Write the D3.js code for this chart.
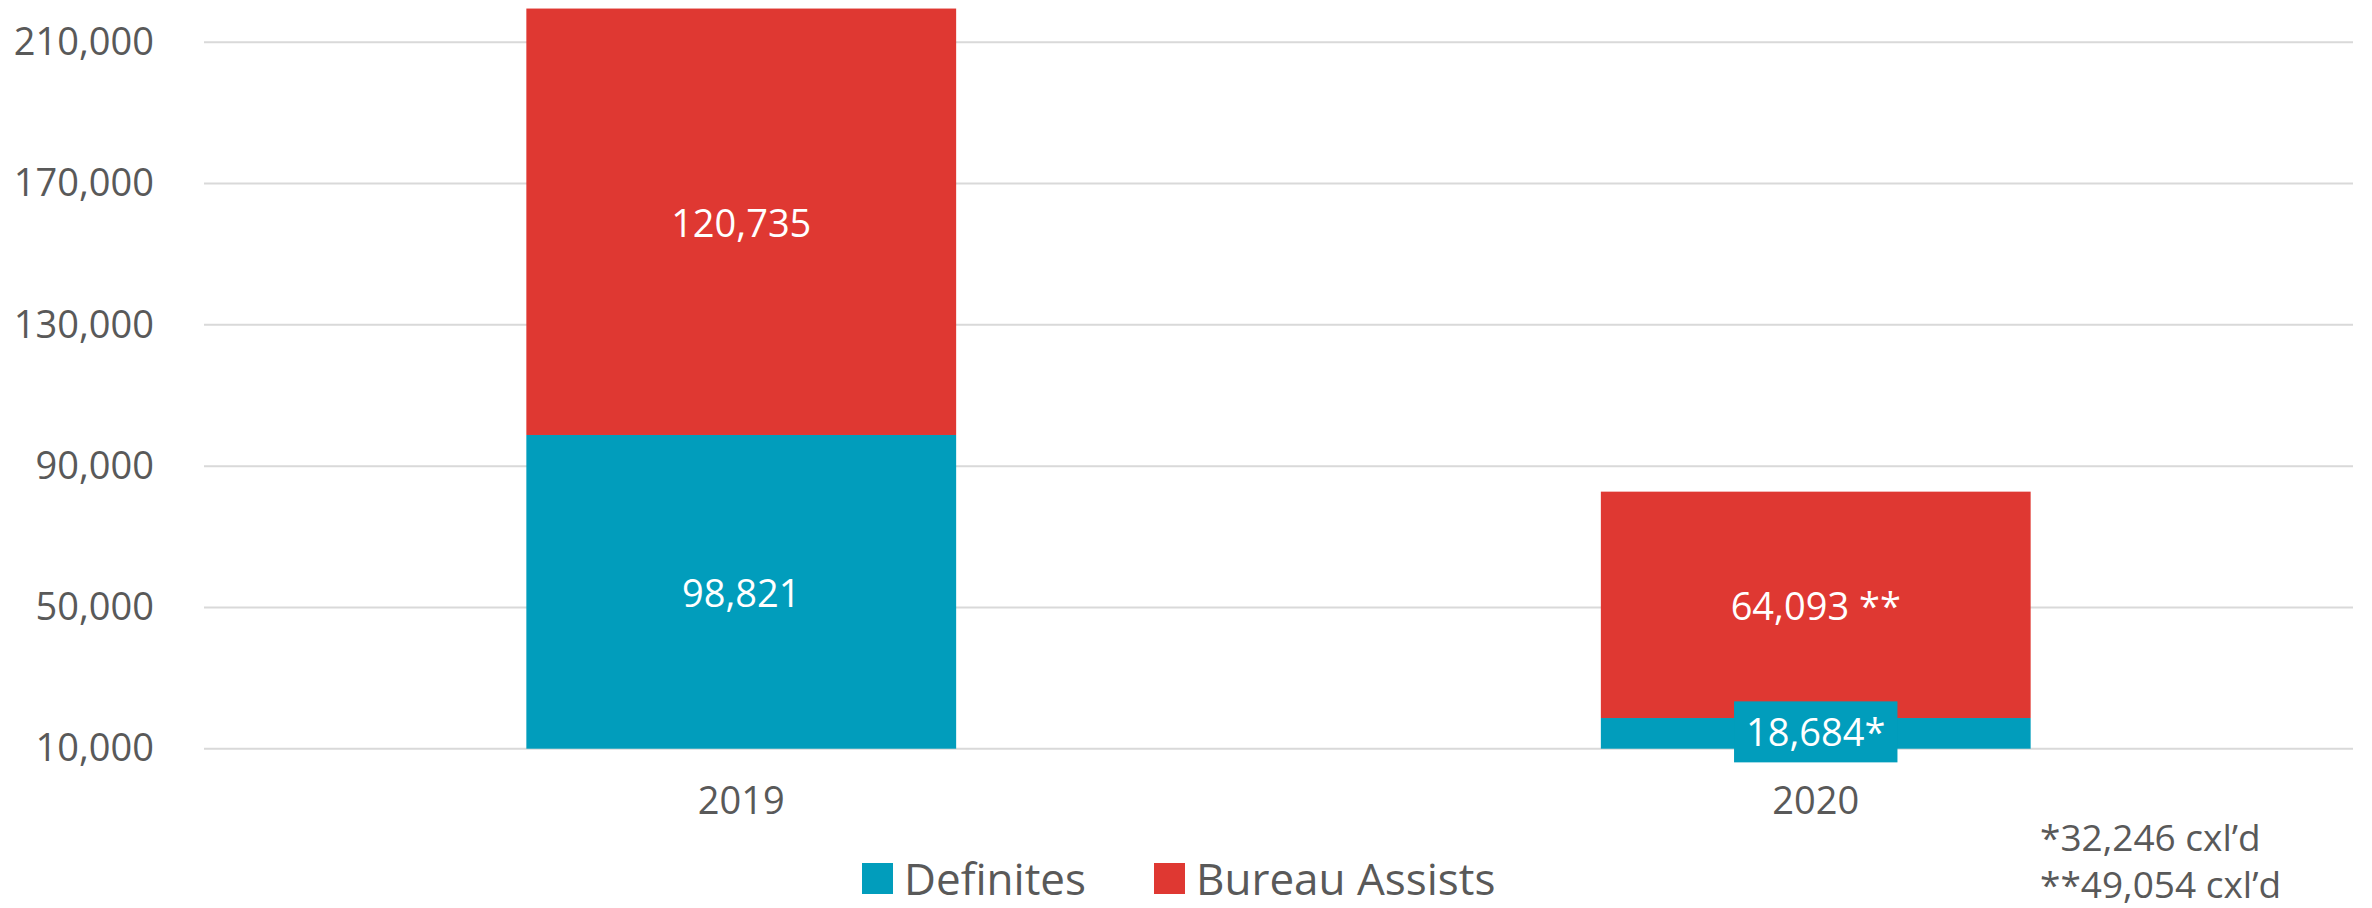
<!DOCTYPE html>
<html>
<head>
<meta charset="utf-8">
<script src="https://cdn.jsdelivr.net/npm/d3@7"></script>
<style>
  body { margin: 0; background: #fff; }
  text { font-family: "Open Sans", sans-serif; }
</style>
</head>
<body>
<script>
var years = ["2019", "2020"];
var seriesNames = ["Definites", "Bureau Assists"];
var definites = [98821, 18684];
var bureauAssists = [120735, 64093];
var definitesMarks = ["", "*"];
var assistsMarks = ["", " **"];
var yTicks = [10000, 50000, 90000, 130000, 170000, 210000];
var footnotes = ["*32,246 cxl\u2019d", "**49,054 cxl\u2019d"];
var colors = ["#019dbc", "#df3832"];

var width = 2372;
var height = 908;
var plotLeft = 204, plotRight = 2353;
var plotTop = 42.3, plotBottom = 748.7;

var svg = d3.select('body')
            .append('svg')
            .attr('width', width)
            .attr('height', height)

var x = d3.scaleBand()
          .domain(years)
          .range([plotLeft, plotRight])
          .paddingInner(0.6)
          .paddingOuter(0.3)

var y = d3.scaleLinear()
          .domain([10000, 210000])
          .range([plotBottom, plotTop])

// gridlines
svg.selectAll('line.grid')
   .data(yTicks)
   .enter()
   .append('line')
   .attr('class', 'grid')
   .attr('x1', plotLeft)
   .attr('x2', plotRight)
   .attr('y1', function(d) {return y(d);})
   .attr('y2', function(d) {return y(d);})
   .attr('stroke', '#d9d9d9')
   .attr('stroke-width', 2)

// y axis labels
var yAxis = d3.axisLeft(y)
              .tickValues(yTicks)
              .tickFormat(d3.format(','))
              .tickSize(0)
              .tickPadding(50)
var ga = svg.append('g')
            .attr('transform', 'translate(' + plotLeft + ',0)')
            .call(yAxis)
ga.select('.domain').remove()
ga.selectAll('text')
  .attr('font-size', 38)
  .attr('fill', '#595959')
  .style('font-family', '"Open Sans", sans-serif')

// x axis labels
var xAxis = d3.axisBottom(x).tickSize(0).tickPadding(38)
var gx = svg.append('g')
            .attr('transform', 'translate(0,' + plotBottom + ')')
            .call(xAxis)
gx.select('.domain').remove()
gx.selectAll('text')
  .attr('font-size', 38)
  .attr('fill', '#595959')
  .style('font-family', '"Open Sans", sans-serif')

var table = years.map(function(yr, i) {
    return {year: yr, "Definites": definites[i], "Bureau Assists": bureauAssists[i]};
});
var stacked = d3.stack().keys(seriesNames)(table);
var marks = [definitesMarks, assistsMarks];

// bars first
stacked.forEach(function(layer, s) {
    svg.append('g')
       .selectAll('rect')
       .data(layer)
       .enter()
       .append('rect')
       .attr('x', function(d) {return x(d.data.year);})
       .attr('width', x.bandwidth())
       .attr('y', function(d) {return y(d[1]);})
       .attr('height', function(d) {return y(Math.max(d[0], 10000)) - y(d[1]);})
       .attr('fill', colors[s])
});

// then data labels on top
stacked.forEach(function(layer, s) {
    layer.forEach(function(d, i) {
        var segH = y(Math.max(d[0], 10000)) - y(d[1]);
        var cy = (y(Math.max(d[0], 10000)) + y(d[1])) / 2;
        if (segH < 55) cy = cy - 2;
        var cx = x(d.data.year) + x.bandwidth() / 2;
        var lg = svg.append('g');
        var t = lg.append('text')
                  .attr('x', cx)
                  .attr('y', cy)
                  .attr('text-anchor', 'middle')
                  .attr('dominant-baseline', 'central')
                  .attr('font-size', 38)
                  .attr('fill', '#fff')
                  .text(d3.format(',')(d.data[seriesNames[s]]) + marks[s][i])
        // label too big for its segment gets a box of the series colour
        if (segH < 55) {
            var w = t.node().getComputedTextLength();
            lg.insert('rect', 'text')
              .attr('x', cx - w / 2 - 12)
              .attr('y', cy - 30)
              .attr('width', w + 24)
              .attr('height', 61)
              .attr('fill', colors[s])
        }
    });
});

// legend
var leg = svg.append('g')
var lx = 862;
seriesNames.forEach(function(name, i) {
    leg.append('rect')
       .attr('x', lx)
       .attr('y', 863)
       .attr('width', 31)
       .attr('height', 31)
       .attr('fill', colors[i])
    var t = leg.append('text')
               .attr('x', lx + 42)
               .attr('y', 878)
               .attr('dominant-baseline', 'central')
               .attr('font-size', 44)
               .attr('fill', '#595959')
               .text(name)
    lx = lx + 42 + t.node().getComputedTextLength() + 68;
});

// footnotes
svg.selectAll('text.note')
   .data(footnotes)
   .enter()
   .append('text')
   .attr('class', 'note')
   .attr('x', 2040)
   .attr('y', function(d, i) {return 836 + i * 47;})
   .attr('dominant-baseline', 'central')
   .attr('font-size', 37)
   .attr('fill', '#595959')
   .text(function(d) {return d;})
</script>
</body>
</html>
